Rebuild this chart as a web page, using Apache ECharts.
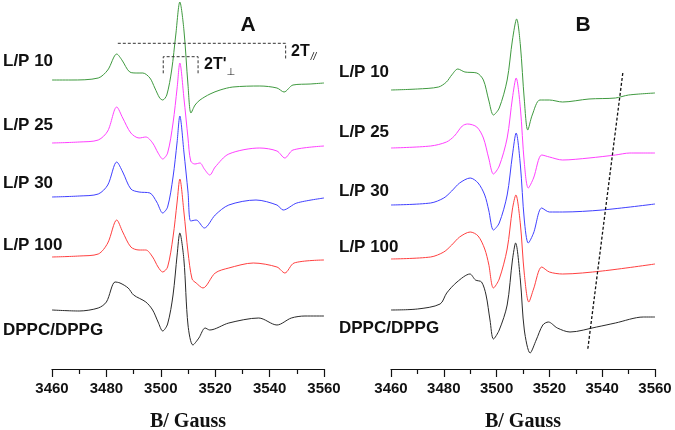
<!DOCTYPE html>
<html><head><meta charset="utf-8">
<script src="https://cdn.jsdelivr.net/npm/echarts@6/dist/echarts.min.js"></script>
<style>html,body{margin:0;padding:0;background:#fff}#c{width:675px;height:430px}</style>
</head><body><div id="c"></div>
<script>
// Field axis ticks (Gauss)
const xTicks = [3460, 3480, 3500, 3520, 3540, 3560];
const sampleNames = ["L/P 10", "L/P 25", "L/P 30", "L/P 100", "DPPC/DPPG"];
const colors = ["#3f9a3f", "#ff40ff", "#4040ff", "#ff4040", "#2a2a2a"];

// Panel A spectra: [field (G), signal]
const A_LP10 = [[3460,0],[3467,0],[3477,2],[3480.5,10],[3483.8,26],[3485.7,20],[3488.6,8],[3491.2,7],[3493.4,7],[3496,2],[3497.8,-8],[3499.6,-18],[3500.7,-20],[3502.2,-15],[3504,10],[3505.5,45],[3507,78],[3508.5,50],[3510,-5],[3511.1,-33],[3512.6,-25],[3514.4,-20],[3518.1,-14],[3521.8,-10],[3526.5,-7],[3536.4,-6],[3542.7,-8],[3545.3,-12],[3548.6,-5],[3554.9,-4],[3560,-3]];
const A_LP25 = [[3460,0],[3470,1],[3477,3],[3480.5,12],[3483.8,36],[3486,25],[3489,10],[3492,5],[3494.5,6],[3497,0],[3499,-10],[3500.7,-16],[3502.5,-10],[3504.5,20],[3506,55],[3507,80],[3508.5,45],[3510,5],[3511,-18],[3512.5,-21],[3514.4,-20],[3516,-26],[3518,-32],[3520,-24],[3525,-11],[3536.4,-5],[3542.7,-8],[3545.6,-15],[3548.6,-7],[3560,-3]];
const A_LP30 = [[3460,0],[3470,1],[3477,3],[3480.5,12],[3483.8,35],[3486,25],[3489,8],[3492,5],[3496,4],[3498.5,-5],[3500.7,-16],[3502.5,-10],[3504.5,20],[3506,55],[3507,81],[3508.5,45],[3510,5],[3511,-24],[3513,-23],[3516,-31],[3520,-18],[3525,-8],[3535,-3],[3542.7,-8],[3545,-13],[3550,-6],[3560,-1]];
const A_LP100 = [[3460,0],[3470,1],[3477,3],[3480.5,14],[3483.8,37],[3486,25],[3489,10],[3492,7],[3494.5,7],[3497,0],[3499,-10],[3500.7,-15],[3502.5,-10],[3504.5,20],[3506,55],[3507,78],[3508.5,45],[3510,5],[3511.5,-22],[3513,-26],[3515.5,-31],[3520,-16],[3525,-11],[3534,-6],[3542.7,-10],[3545.6,-16],[3549,-6],[3560,-3]];
const A_DPPC = [[3460,0],[3470,-1],[3477,2],[3480,8],[3483.2,28],[3485,27],[3488,22],[3490,15],[3494.5,8],[3497,0],[3499,-12],[3500.7,-21],[3502.5,-14],[3504.5,15],[3506,55],[3507,77],[3508.5,50],[3510,-15],[3511.8,-35],[3514,-28],[3516.3,-18],[3518,-20],[3525,-13],[3536,-8],[3542.7,-15],[3548,-8],[3553,-6],[3560,-6]];
// Panel B spectra
const B_LP10 = [[3460,0],[3470,1],[3478,3],[3481,8],[3483,15],[3485.3,21],[3488,18],[3492.5,17],[3495,10],[3497,-10],[3498.8,-25],[3501,-18],[3504,10],[3506,50],[3507.6,71],[3509,45],[3510.5,-10],[3511.8,-40],[3513.5,-25],[3516.4,-10],[3520,-10],[3525,-12],[3535,-9],[3545,-8],[3550,-5],[3560,-3]];
const B_LP25 = [[3460,0],[3475,2],[3481,6],[3484,12],[3487,22],[3489,24],[3492.5,21],[3495,10],[3497,-10],[3498.8,-26],[3501,-18],[3504,10],[3506,50],[3507.4,70],[3509,40],[3510.5,-15],[3512,-40],[3514,-30],[3517.1,-7],[3520,-9],[3525,-12],[3535,-10],[3545,-7],[3550.5,-5],[3560,-5]];
const B_LP30 = [[3460,0],[3475,2],[3480,7],[3483,14],[3486,22],[3490,27],[3493,22],[3495.5,10],[3497,-5],[3498.8,-25],[3501,-18],[3504,10],[3506,50],[3507.4,72],[3509,40],[3510.5,-15],[3512,-38],[3514,-28],[3517.1,-3],[3520,-7],[3525,-7],[3540,-5],[3560,1]];
const B_LP100 = [[3460,0],[3475,2],[3480,7],[3483,14],[3486,22],[3490,27],[3493,23],[3495.5,10],[3497,-5],[3498.8,-29],[3501,-20],[3504,10],[3506,50],[3507.3,64],[3509,35],[3510.5,-15],[3512.2,-43],[3514,-30],[3517.1,-8],[3520,-13],[3525,-15],[3540,-12],[3560,-5]];
const B_DPPC = [[3460,0],[3470,1],[3478.6,6],[3481.1,17],[3485,28],[3489.9,36],[3492,30],[3494.3,28],[3496,15],[3497.5,-10],[3498.8,-29],[3501,-20],[3504,5],[3506,50],[3507.2,67],[3509,30],[3510.5,-20],[3512.7,-43],[3515,-30],[3517.5,-15],[3519.6,-12],[3523,-18],[3527.8,-22],[3537.9,-17],[3545,-13],[3555.6,-7],[3560,-7]];

// vertical stacking offsets
const offsetsA = [289, 226, 172, 112, 59];
const offsetsB = [279, 221, 164, 110, 59];

// annotation lines (field, height)
const bracketPar = [[3484.2,325.7],[3545.9,325.7],[3545.9,309]];
const bracketPerp = [[3500.9,295.7],[3500.9,312.3],[3513.7,312.3],[3513.7,295.7]];
const dashB = [[3547.8,296],[3534.5,19]];

const spectraA = [A_LP10, A_LP25, A_LP30, A_LP100, A_DPPC];
const spectraB = [B_LP10, B_LP25, B_LP30, B_LP100, B_DPPC];

function shift(arr, off){ return arr.map(p => [p[0], p[1] + off]); }

const chart = echarts.init(document.getElementById('c'), null, {renderer:'canvas'});
function xAx(gi){
  return {gridIndex: gi, type:'value', min: xTicks[0], max: xTicks[xTicks.length-1], interval: 20,
    name:'B/ Gauss', nameLocation:'middle', nameGap: 43,
    nameTextStyle:{fontFamily:'Liberation Serif', fontWeight:'bold', fontSize:20, color:'#111'},
    axisLine:{show:true, lineStyle:{color:'#111', width:1.2}},
    axisTick:{show:true, length:8, lineStyle:{color:'#111', width:1.2}},
    minorTick:{show:true, splitNumber:2, length:5, lineStyle:{color:'#111', width:1.2}},
    splitLine:{show:false},
    axisLabel:{fontFamily:'Liberation Sans', fontWeight:'bold', fontSize:15, color:'#111', margin:12, formatter: v => String(v)}
  };
}
function yAx(gi){ return {gridIndex: gi, type:'value', min:0, max:369, show:false}; }

const series = [];
spectraA.forEach((s,i)=>series.push({type:'line', xAxisIndex:0, yAxisIndex:0, data: shift(s, offsetsA[i]), showSymbol:false, smooth:0.3, lineStyle:{color:colors[i], width:1}, silent:true}));
spectraB.forEach((s,i)=>series.push({type:'line', xAxisIndex:1, yAxisIndex:1, data: shift(s, offsetsB[i]), showSymbol:false, smooth:0.3, lineStyle:{color:colors[i], width:1}, silent:true}));
[bracketPar, bracketPerp].forEach(b=>series.push({type:'line', xAxisIndex:0, yAxisIndex:0, data:b, showSymbol:false, lineStyle:{color:'#333', width:1, type:[3,2]}, silent:true}));
series.push({type:'line', xAxisIndex:1, yAxisIndex:1, data:dashB, showSymbol:false, lineStyle:{color:'#111', width:1.3, type:[3,2]}, silent:true});

const graphics = [];
const labelYA = [61, 125, 183, 245, 330];
const labelYB = [72, 132, 191, 247, 328];
sampleNames.forEach((n,i)=>{ graphics.push({type:'text', x:3, y:labelYA[i], style:{text:n, font:'bold 17px "Liberation Sans"', fill:'#111', verticalAlign:'middle'}}); });
sampleNames.forEach((n,i)=>{ graphics.push({type:'text', x:339, y:labelYB[i], style:{text:n, font:'bold 17px "Liberation Sans"', fill:'#111', verticalAlign:'middle'}}); });
graphics.push({type:'text', x:248, y:25, style:{text:'A', font:'bold 21px "Liberation Sans"', fill:'#111', align:'center', verticalAlign:'middle'}});
graphics.push({type:'text', x:583, y:25, style:{text:'B', font:'bold 21px "Liberation Sans"', fill:'#111', align:'center', verticalAlign:'middle'}});
graphics.push({type:'text', x:204, y:65, style:{text:"{m|2T'}{s|⊥}", rich:{m:{font:'bold 16px "Liberation Sans"', fill:'#111'}, s:{font:'10px "DejaVu Sans"', fill:'#111', padding:[14,0,0,0]}}, verticalAlign:'middle'}});
graphics.push({type:'text', x:291, y:52, style:{text:"{m|2T}{s|//}", rich:{m:{font:'bold 16px "Liberation Sans"', fill:'#111'}, s:{font:'italic 10px "Liberation Sans"', fill:'#111', padding:[10,0,0,1]}}, verticalAlign:'middle'}});

chart.setOption({
  animation:false,
  backgroundColor:'#fff',
  grid:[{left:52, width:272, top:0, height:369, containLabel:false, outerBoundsMode:'none'}, {left:391, width:264, top:0, height:369, containLabel:false, outerBoundsMode:'none'}],
  xAxis:[xAx(0), xAx(1)],
  yAxis:[yAx(0), yAx(1)],
  series: series,
  graphic: graphics
});
</script></body></html>
